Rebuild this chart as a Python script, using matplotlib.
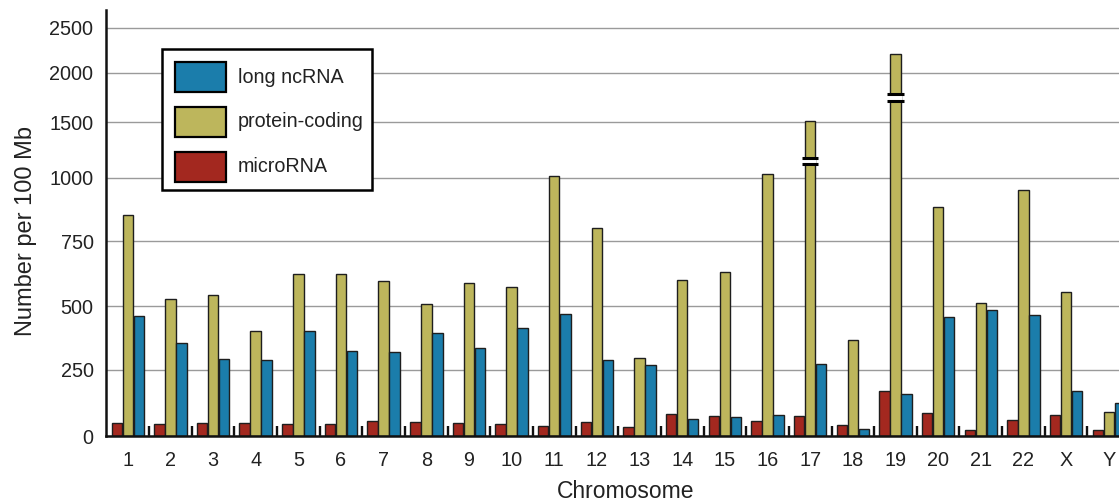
import numpy as np
import matplotlib
matplotlib.use("Agg")
from matplotlib import pyplot as plt
from matplotlib.patches import Rectangle

plt.rcParams['font.family'] = ['Liberation Sans', 'DejaVu Sans']

chromosomes = ['1', '2', '3', '4', '5', '6', '7', '8', '9', '10', '11', '12',
               '13', '14', '15', '16', '17', '18', '19', '20', '21', '22', 'X', 'Y']

microrna = [50, 47, 49, 49, 44, 45, 55, 53, 49, 47, 38, 53,
            35, 84, 75, 56, 74, 40, 168, 88, 24, 60, 80, 24]
protein_coding = [853, 527, 542, 401, 624, 624, 597, 510, 591, 574, 1018, 804,
                  297, 600, 633, 1036, 1513, 368, 2215, 884, 513, 954, 555, 92]
long_ncrna = [460, 354, 292, 288, 403, 323, 319, 396, 335, 413, 470, 288,
              270, 63, 71, 79, 272, 25, 157, 456, 485, 464, 171, 123]

# axis breaks drawn on the tallest protein-coding bars (chromosome, low, high)
breaks = [('17', 1123, 1183), ('19', 1713, 1784)]

# the value axis is stretched below 1000 and squeezed above it
scale_vals = [0, 250, 500, 750, 1000, 1500, 2000, 2500, 3000]
scale_pos = [0, 66.4, 129.7, 194.7, 258, 313.7, 363, 408, 453]

yticks = [0, 250, 500, 750, 1000, 1500, 2000, 2500]

c_blue = '#1b7dab'
c_yellow = '#bdb65c'
c_red = '#a3281f'
c_edge = '#1e1e1e'
c_text = '#222222'

W, H = 1119, 503
fig = plt.figure(figsize=(W / 100, H / 100), dpi=100)
ax = fig.add_axes([106 / W, 1 - 436 / H, 1039 / W, 426 / H])

fwd = lambda v: np.interp(v, scale_vals, scale_pos)
inv = lambda t: np.interp(t, scale_pos, scale_vals)
ax.set_yscale('function', functions=(fwd, inv))

x = np.arange(len(chromosomes))
bw = 0.245
off = 0.258
ax.bar(x - off, microrna, bw, color=c_red, edgecolor=c_edge, lw=1, zorder=3)
ax.bar(x, protein_coding, bw, color=c_yellow, edgecolor=c_edge, lw=1, zorder=3)
ax.bar(x + off, long_ncrna, bw, color=c_blue, edgecolor=c_edge, lw=1, zorder=3)

for name, lo, hi in breaks:
    i = chromosomes.index(name)
    ax.add_patch(Rectangle((i - bw / 2 - 0.02, lo), bw + 0.04, hi - lo,
                           facecolor='white', edgecolor='none', zorder=4))
    for v in (lo, hi):
        ax.plot([i - 0.19, i + 0.19], [v, v], color='black', lw=2.2,
                solid_capstyle='butt', zorder=5)

ax.set_xlim(-0.51, 23.85)
ax.set_ylim(0, 2700)
ax.set_yticks(yticks)
ax.set_yticklabels([str(t) for t in yticks])
ax.set_xticks(x)
ax.set_xticklabels(chromosomes)
ax.set_xticks(x[:-1] + 0.5, minor=True)

ax.tick_params(axis='x', which='major', length=0, pad=11, labelsize=14.3, colors=c_text)
ax.tick_params(axis='x', which='minor', direction='in', length=7.5, width=1.7, color='#111111')
ax.tick_params(axis='y', length=0, pad=9, labelsize=14.3, colors=c_text)

ax.grid(axis='y', color='#9a9a9a', lw=1, zorder=0)
ax.set_axisbelow(True)
for s in ('top', 'right'):
    ax.spines[s].set_visible(False)
for s in ('left', 'bottom'):
    ax.spines[s].set_linewidth(1.8)
    ax.spines[s].set_color('#111111')
    ax.spines[s].set_zorder(6)

ax.set_xlabel('Chromosome', fontsize=16.5, color=c_text, va='center')
ax.xaxis.set_label_coords(625.5 / W, 1 - 492 / H, transform=fig.transFigure)
ax.set_ylabel('Number per 100 Mb', fontsize=17, color=c_text, va='center')
ax.yaxis.set_label_coords(26 / W, 1 - 231 / H, transform=fig.transFigure)

# legend box drawn by hand in figure pixels
fx = lambda px: px / W
fy = lambda py: 1 - py / H
fig.add_artist(Rectangle((fx(162.3), fy(190)), fx(371.7) - fx(162.3), fy(49.3) - fy(190),
                         transform=fig.transFigure, facecolor='white',
                         edgecolor='black', lw=1.8, zorder=10))
legend_items = [('long ncRNA', c_blue), ('protein-coding', c_yellow), ('microRNA', c_red)]
for k, (label, col) in enumerate(legend_items):
    cy = 77 + 44.8 * k
    fig.add_artist(Rectangle((fx(175), fy(cy + 15)), fx(226) - fx(175), 30 / H,
                             transform=fig.transFigure, facecolor=col,
                             edgecolor='black', lw=1.6, zorder=11))
    fig.text(fx(238), fy(cy), label, fontsize=14.2, color=c_text,
             ha='left', va='center', zorder=11)

fig.savefig('out.png', dpi=100)
